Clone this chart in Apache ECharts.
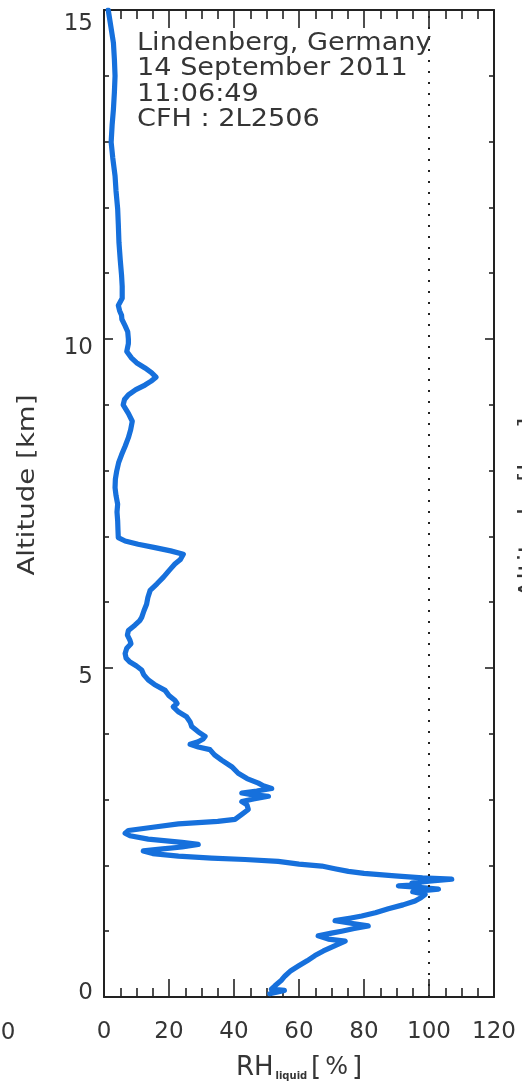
<!DOCTYPE html>
<html>
<head>
<meta charset="utf-8">
<script src="https://cdn.jsdelivr.net/npm/echarts@6/dist/echarts.min.js"></script>
<style>
  html, body { margin: 0; padding: 0; background: #ffffff; }
  #chart { width: 522px; height: 1086px; }
</style>
</head>
<body>
<div id="chart"></div>
<script>
// CFH sounding, Lindenberg: relative humidity over liquid water vs altitude
const altitudeKm = [
  0.05, 0.10, 0.12, 0.17, 0.25, 0.32, 0.40, 0.47, 0.55, 0.63,
  0.70, 0.78, 0.85, 0.88, 0.93, 0.97, 1.00, 1.04, 1.08, 1.12,
  1.16, 1.20, 1.23, 1.28, 1.34, 1.40, 1.46, 1.51, 1.56, 1.60,
  1.64, 1.67, 1.69, 1.71, 1.73, 1.76, 1.79, 1.81, 1.84, 1.88,
  1.91, 1.95, 1.99, 2.02, 2.06, 2.09, 2.11, 2.14, 2.18, 2.22,
  2.25, 2.28, 2.32, 2.35, 2.40, 2.45, 2.49, 2.53, 2.58, 2.63,
  2.67, 2.70, 2.78, 2.85, 2.92, 2.97, 3.01, 3.05, 3.08, 3.10,
  3.13, 3.17, 3.21, 3.25, 3.32, 3.40, 3.50, 3.60, 3.68, 3.76,
  3.80, 3.84, 3.88, 3.92, 3.96, 4.03, 4.11, 4.18, 4.26, 4.33,
  4.41, 4.46, 4.51, 4.58, 4.66, 4.75, 4.82, 4.90, 4.97, 5.03,
  5.09, 5.15, 5.22, 5.30, 5.37, 5.42, 5.50, 5.57, 5.65, 5.72,
  5.77, 5.87, 5.97, 6.07, 6.18, 6.28, 6.38, 6.48, 6.58, 6.65,
  6.73, 6.78, 6.83, 6.88, 6.93, 6.98, 7.10, 7.24, 7.37, 7.49,
  7.62, 7.74, 7.87, 7.99, 8.12, 8.24, 8.37, 8.50, 8.62, 8.75,
  8.87, 9.00, 9.08, 9.15, 9.23, 9.30, 9.36, 9.42, 9.49, 9.56,
  9.64, 9.71, 9.81, 9.93, 10.00, 10.11, 10.20, 10.30, 10.36, 10.43,
  10.51, 10.62, 10.80, 10.97, 11.20, 11.47, 11.75, 11.98, 12.25, 12.48,
  12.75, 12.99, 13.25, 13.49, 13.75, 14.00, 14.25, 14.50, 14.75, 15.00
];
const rhLiquid = [
  51.0, 55.5, 51.5, 52.6, 54.5, 55.7, 57.5, 59.8, 62.5, 64.9,
  67.5, 71.1, 74.2, 69.0, 65.9, 70.0, 73.1, 77.0, 81.3, 76.0,
  71.1, 76.0, 79.3, 83.5, 87.5, 92.0, 95.7, 97.5, 98.8, 95.0,
  102.9, 96.0, 90.6, 97.0, 94.7, 100.0, 107.0, 98.0, 89.5, 80.0,
  75.2, 71.0, 67.0, 60.0, 53.6, 43.4, 33.1, 22.9, 15.0, 12.1,
  18.0, 24.0, 29.0, 24.0, 13.6, 8.0, 6.5, 7.5, 15.0, 22.9,
  35.0, 40.3, 42.5, 44.4, 44.0, 42.4, 46.0, 50.6, 45.0, 42.4,
  47.0, 51.6, 49.0, 47.5, 44.0, 41.3, 39.3, 36.2, 34.0, 32.6,
  29.0, 26.5, 29.0, 30.5, 31.1, 29.0, 27.0, 26.5, 25.4, 23.0,
  21.3, 22.5, 21.8, 20.0, 18.8, 15.5, 13.6, 12.2, 11.6, 10.0,
  8.0, 6.8, 6.5, 7.0, 8.3, 8.0, 7.2, 7.5, 9.5, 11.0,
  11.6, 12.3, 13.1, 13.5, 14.2, 16.3, 18.3, 20.0, 21.8, 23.5,
  24.4, 20.5, 15.7, 10.5, 6.5, 4.4, 4.3, 4.2, 4.0, 4.2,
  3.7, 3.4, 3.5, 3.9, 4.5, 5.4, 6.5, 7.5, 8.2, 8.7,
  7.5, 5.9, 6.3, 7.5, 9.8, 12.6, 14.5, 16.0, 14.6, 12.6,
  10.0, 8.5, 7.0, 7.5, 7.5, 7.3, 6.5, 5.5, 5.4, 4.8,
  4.4, 5.6, 5.6, 5.4, 5.0, 4.6, 4.4, 4.2, 3.7, 3.4,
  2.7, 2.2, 2.5, 2.9, 3.2, 3.4, 3.2, 2.9, 2.1, 1.3
];
const xTicks = { min: 0, max: 120, step: 20 };
const yTicks = { min: 0, max: 15, step: 5 };
const saturationLine = 100;
const stationLines = ['Lindenberg, Germany', '14 September 2011', '11:06:49', 'CFH : 2L2506'];
const yTitle = 'Altitude [km]';

const FONT = 'DejaVu Sans';
const INK = '#222';
const TEXT = '#353535';

const profile = altitudeKm.map((a, i) => [rhLiquid[i], a]);

function xAxisDef(pos, labels) {
  return {
    type: 'value', position: pos,
    min: xTicks.min, max: xTicks.max, interval: xTicks.step,
    axisLine: { show: true, onZero: false, lineStyle: { color: INK, width: 2 } },
    axisTick: { show: true, inside: true, length: 18, lineStyle: { color: INK, width: 1.6 } },
    minorTick: { show: true, splitNumber: 4, length: 9, lineStyle: { color: INK, width: 1.6 } },
    splitLine: { show: false }, minorSplitLine: { show: false },
    axisLabel: { show: labels, fontFamily: FONT, fontSize: 23, color: TEXT, margin: 24 },
    name: labels ? '{m|RH}{s|liquid}{g| }{m|[}{p|%}{m|]}' : '',
    nameLocation: 'middle', nameGap: 58,
    nameTextStyle: {
      fontFamily: FONT,
      rich: {
        m: { fontFamily: FONT, fontSize: 26, color: TEXT },
        p: { fontFamily: FONT, fontSize: 24, color: TEXT, padding: [0, 4, 0, 4] },
        g: { fontFamily: FONT, fontSize: 12 },
        s: { fontFamily: FONT, fontSize: 10, fontWeight: 'bold', color: TEXT, verticalAlign: 'bottom', padding: [0, 0, 0, 2] }
      }
    }
  };
}

// tick labels of the altitude axis sit a little below their ticks; the
// end labels are pulled inside the frame
function yLabel(v) {
  if (v === yTicks.max) return '{hi|' + v + '}';
  if (v === yTicks.min) return '{lo|' + v + '}';
  return '{mid|' + v + '}';
}

function yAxisDef(pos, labels) {
  return {
    type: 'value', position: pos,
    min: yTicks.min, max: yTicks.max, interval: yTicks.step,
    axisLine: { show: true, onZero: false, lineStyle: { color: INK, width: 2 } },
    axisTick: { show: true, inside: true, length: 9, lineStyle: { color: INK, width: 1.6 } },
    minorTick: { show: true, splitNumber: 5, length: 5, lineStyle: { color: INK, width: 1.6 } },
    splitLine: { show: false }, minorSplitLine: { show: false },
    axisLabel: {
      show: labels, margin: 11, formatter: yLabel, verticalAlign: 'middle',
      rich: {
        hi: { fontFamily: FONT, fontSize: 23, color: TEXT, padding: [28, 0, 0, 0] },
        mid: { fontFamily: FONT, fontSize: 23, color: TEXT, padding: [18, 0, 0, 0] },
        lo: { fontFamily: FONT, fontSize: 23, color: TEXT, padding: [0, 0, 8, 0] }
      }
    }
  };
}

const chart = echarts.init(document.getElementById('chart'), null, { renderer: 'canvas' });
chart.setOption({
  backgroundColor: '#ffffff',
  animation: false,
  grid: { left: 104, right: 28, top: 10, bottom: 85, containLabel: false },
  xAxis: [xAxisDef('bottom', true), xAxisDef('top', false)],
  yAxis: [yAxisDef('left', true), yAxisDef('right', false)],
  series: [{
    type: 'line',
    data: profile,
    xAxisIndex: 0, yAxisIndex: 0,
    showSymbol: false, symbol: 'none',
    lineStyle: { color: '#1670dc', width: 5.2, join: 'round', cap: 'round' },
    z: 3,
    markLine: {
      silent: true, symbol: 'none', label: { show: false },
      lineStyle: { color: INK, width: 2, type: [2, 9] },
      data: [{ xAxis: saturationLine }]
    }
  }],
  graphic: [
    {
      type: 'text', x: 137, y: 31, scaleX: 1.13, z: 10,
      style: {
        text: stationLines.join('\n'), fontFamily: FONT, fontSize: 24,
        lineHeight: 25.5, fill: TEXT
      }
    },
    {
      // altitude axis title
      type: 'text', x: 28, y: 485, rotation: Math.PI / 2, scaleX: 1.2, z: 10,
      style: { text: yTitle, fontFamily: FONT, fontSize: 23, fill: TEXT, align: 'center', verticalAlign: 'middle' }
    },
    {
      type: 'text', x: 8, y: 1033, z: 10,
      style: { text: '0', fontFamily: FONT, fontSize: 23, fill: TEXT, align: 'center', verticalAlign: 'middle' }
    },
    {
      type: 'text', x: 529, y: 508, rotation: Math.PI / 2, scaleX: 1.2, z: 10,
      style: { text: yTitle, fontFamily: FONT, fontSize: 23, fill: TEXT, align: 'center', verticalAlign: 'middle' }
    }
  ]
});
</script>
</body>
</html>
